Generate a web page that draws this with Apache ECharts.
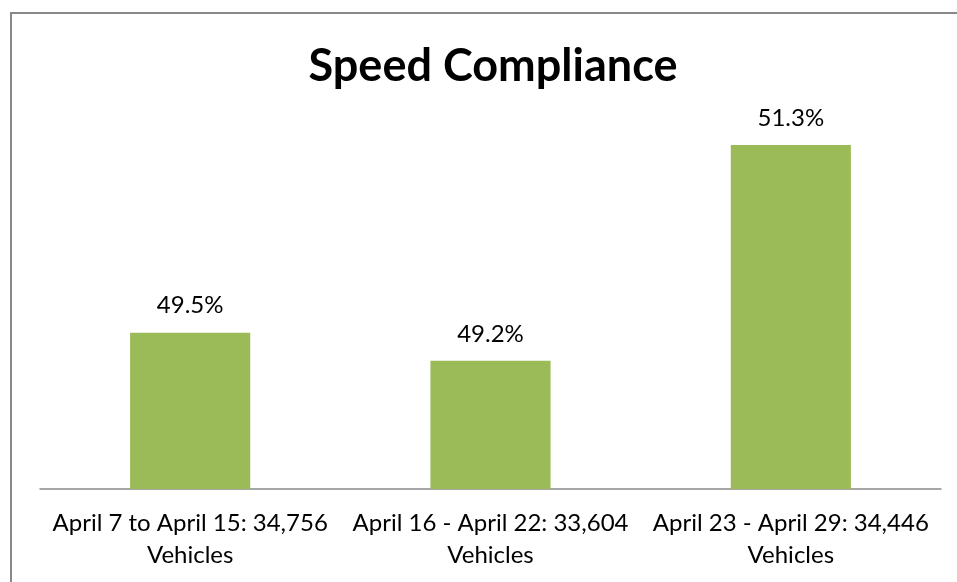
<!DOCTYPE html>
<html>
<head>
<meta charset="utf-8">
<script src="https://cdn.jsdelivr.net/npm/echarts@6/dist/echarts.min.js"></script>
<style>html,body{margin:0;padding:0;background:#fff;}#c{width:957px;height:582px;}</style>
</head>
<body>
<div id="c"></div>
<script>
const categories = [
  "April 7 to April 15: 34,756\nVehicles",
  "April 16 - April 22: 33,604\nVehicles",
  "April 23 - April 29: 34,446\nVehicles"
];
const compliance = [49.5, 49.23, 51.3];
const titleText = "Speed Compliance";

const chart = echarts.init(document.getElementById('c'), null, {renderer: 'canvas'});
chart.setOption({
  animation: false,
  backgroundColor: '#ffffff',
  title: {
    text: titleText,
    left: 488,
    top: 39,
    textAlign: 'center',
    textStyle: {fontFamily: 'Lato', fontWeight: 'bold', fontSize: 45, color: '#000'}
  },
  graphic: [{
    type: 'rect',
    shape: {x: 11, y: 13, width: 1000, height: 700},
    style: {fill: 'none', stroke: '#888888', lineWidth: 2},
    silent: true
  }],
  grid: {left: 40, right: 16, top: 72, bottom: 93},
  xAxis: {
    type: 'category',
    data: categories,
    axisLine: {lineStyle: {color: '#898989', width: 1.5}},
    axisTick: {show: false},
    axisLabel: {fontFamily: 'Lato', fontSize: 24, color: '#000', lineHeight: 32, margin: 18, interval: 0}
  },
  yAxis: {
    type: 'value',
    min: 48,
    max: 52,
    show: false,
    splitLine: {show: false}
  },
  series: [{
    type: 'bar',
    data: compliance,
    barWidth: '40%',
    itemStyle: {color: '#9BBB59'},
    label: {
      show: true,
      position: 'top',
      distance: 15,
      formatter: p => p.value.toFixed(1) + '%',
      fontFamily: 'Lato',
      fontSize: 24,
      color: '#000'
    }
  }]
});
</script>
</body>
</html>
